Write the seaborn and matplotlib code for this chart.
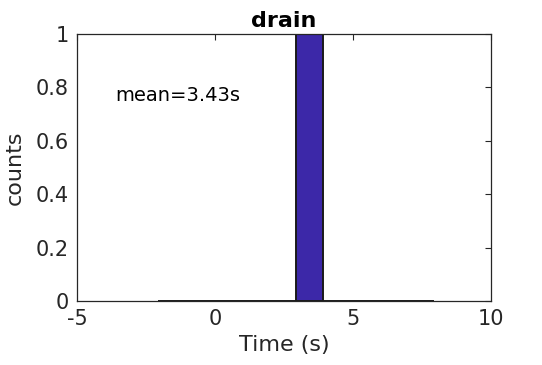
import numpy as np
import pandas as pd
import matplotlib
matplotlib.use("Agg")
import matplotlib.pyplot as plt
import seaborn as sns

# data
durations = [3.43]
bin_edges = [-2.07, -1.07, -0.07, 0.93, 1.93, 2.93, 3.93, 4.93, 5.93, 6.93, 7.93]
title = "drain"
x_label = "Time (s)"
y_label = "counts"
x_ticks = [-5, 0, 5, 10]
x_tick_labels = ["-5", "0", "5", "10"]
y_ticks = [0, 0.2, 0.4, 0.6, 0.8, 1]
y_tick_labels = ["0", "0.2", "0.4", "0.6", "0.8", "1"]

sns.set_style("white")
plt.rcParams['font.family'] = ['DejaVu Sans']

fig = plt.figure(figsize=(5.42, 3.65), dpi=100)
ax = fig.add_axes([0.142, 0.175, 0.764, 0.732])

df = pd.DataFrame({"t": durations})
sns.histplot(data=df, x="t", bins=bin_edges, ax=ax, color="#3c28a8", alpha=1.0,
             edgecolor="#1a1a1a", linewidth=1.4)

ax.set_xlim(-5, 10)
ax.set_ylim(0, 1)
ax.set_xticks(x_ticks)
ax.set_xticklabels(x_tick_labels)
ax.set_yticks(y_ticks)
ax.set_yticklabels(y_tick_labels)
ax.tick_params(direction="in", length=4, width=0.8, colors="#262626", labelsize=15,
               top=True, right=True, labelcolor="#262626", pad=6)
for s in ax.spines.values():
    s.set_color("#262626")
    s.set_linewidth(0.9)
ax.set_xlabel(x_label, fontsize=16, color="#262626", labelpad=4)
ax.set_ylabel(y_label, fontsize=16, color="#262626", labelpad=8)
ax.set_title(title, fontsize=16, fontweight="bold", color="black", pad=5)
ax.text(-3.6, 0.77, "mean=%.2fs" % np.mean(durations), fontsize=14, color="black",
        va="center", ha="left")

fig.savefig("out.png", dpi=100)
